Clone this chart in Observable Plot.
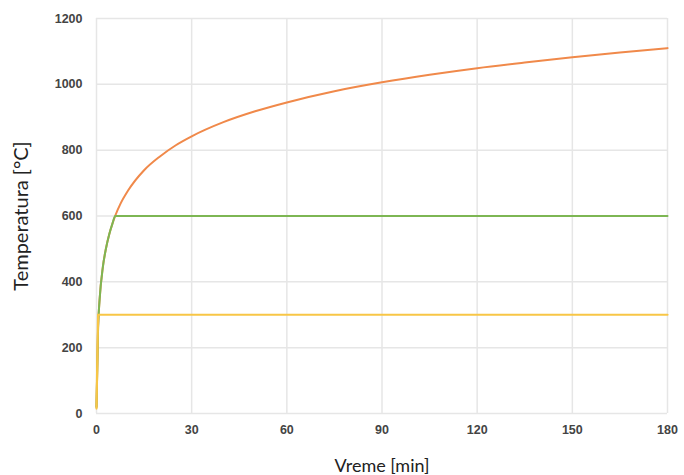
<!DOCTYPE html>
<html>
<head>
<meta charset="utf-8">
<script src="https://cdn.jsdelivr.net/npm/d3@7"></script>
<script src="https://cdn.jsdelivr.net/npm/@observablehq/plot@0.6"></script>
<style>
  html, body { margin: 0; padding: 0; background: #fff; }
  #chart { width: 684px; height: 475px; }
</style>
</head>
<body>
<div id="chart"></div>
<script>
// Time (min) and temperature (°C) readings
const orangeTime = [0, 0.5, 1, 2, 3, 4, 5, 6, 7.5, 10, 15, 20, 25, 30, 40, 50, 60, 75, 90, 105, 120, 135, 150, 165, 180];
const orangeTemp = [20, 261, 349, 445, 502, 544, 576, 603, 636, 678, 739, 781, 815, 842, 885, 918, 945, 979, 1006, 1029, 1049, 1066, 1082, 1097, 1110];

const greenTime = [0, 0.5, 1, 2, 3, 4, 5, 5.9, 180];
const greenTemp = [20, 261, 349, 445, 502, 544, 576, 600, 600];

const yellowTime = [0, 0.5, 180];
const yellowTemp = [15, 300, 300];

const xTicks = [0, 30, 60, 90, 120, 150, 180];
const yTicks = [0, 200, 400, 600, 800, 1000, 1200];

const xTitle = "Vreme [min]";
const yTitle = "Temperatura [°C]";

const colors = { orange: "#f0894a", green: "#7db653", yellow: "#f8c646" };

const toRows = (ts, vs) => ts.map((t, i) => ({ t, v: vs[i] }));
const orange = toRows(orangeTime, orangeTemp);
const green = toRows(greenTime, greenTemp);
const yellow = toRows(yellowTime, yellowTemp);

const tickFont = "Liberation Sans, Arial, sans-serif";

const chart = Plot.plot({
  width: 684,
  height: 475,
  marginLeft: 96,
  marginRight: 17,
  marginTop: 18,
  marginBottom: 62,
  style: { background: "#fff", overflow: "visible" },
  x: { domain: [0, 180], ticks: xTicks },
  y: { domain: [0, 1200], ticks: yTicks },
  marks: [
    Plot.gridX(xTicks, { stroke: "#e6e6e6", strokeOpacity: 1, strokeWidth: 1.5 }),
    Plot.gridY(yTicks, { stroke: "#e6e6e6", strokeOpacity: 1, strokeWidth: 1.5 }),
    Plot.axisX({
      ticks: xTicks, tickSize: 0, tickPadding: 12, tickFormat: d => String(d),
      fontFamily: tickFont, fontWeight: "bold", fontSize: 12.5, fill: "#444",
      label: xTitle, labelAnchor: "center", labelArrow: "none", labelOffset: 58
    }),
    Plot.axisY({
      ticks: yTicks, tickSize: 0, tickPadding: 14, tickFormat: d => String(d),
      fontFamily: tickFont, fontWeight: "bold", fontSize: 12.5, fill: "#444",
      label: yTitle, labelAnchor: "center", labelArrow: "none", labelOffset: 83
    }),
    Plot.line(orange, { x: "t", y: "v", stroke: colors.orange, strokeWidth: 2, curve: "monotone-x" }),
    Plot.line(green, { x: "t", y: "v", stroke: colors.green, strokeWidth: 2, curve: "monotone-x" }),
    Plot.line(yellow, { x: "t", y: "v", stroke: colors.yellow, strokeWidth: 2.2, curve: "linear" })
  ]
});

// style axis titles
const styleTitle = (sel, size) => chart.querySelectorAll(sel).forEach(t => {
  t.setAttribute("font-family", "Lato, 'Noto Sans', sans-serif");
  t.setAttribute("font-size", size);
  t.setAttribute("font-weight", "normal");
  t.setAttribute("fill", "#222");
});
styleTitle("[aria-label='x-axis label'] text", "18");
styleTitle("[aria-label='y-axis label'] text", "20");
document.getElementById("chart").appendChild(chart);
</script>
</body>
</html>
